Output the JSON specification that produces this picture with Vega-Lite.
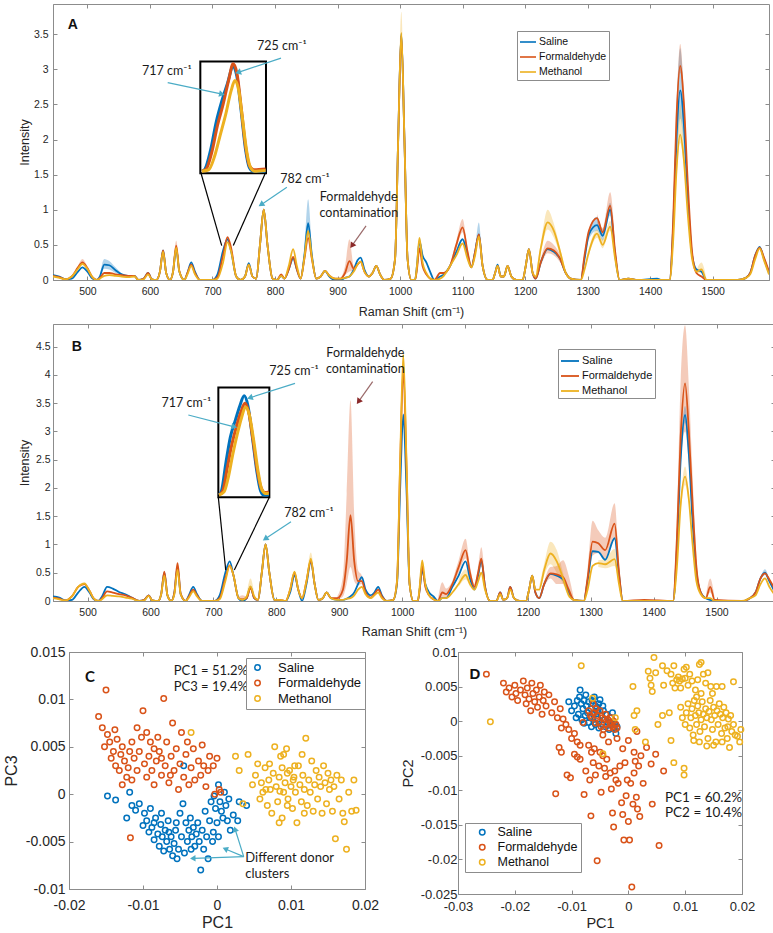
{
"$schema":"https://vega.github.io/schema/vega-lite/v6.json",
"padding":{"left":2,"top":3,"right":2,"bottom":3},
"config":{
 "view":{"stroke":"#8c8c8c","strokeWidth":1},
 "font":"Liberation Sans",
 "axis":{"grid":false,"tickSize":-4,"tickCount":30,"tickColor":"#8c8c8c","domainColor":"#8c8c8c","labelColor":"#262626","titleColor":"#262626","titleFontWeight":"normal","labelFont":"Liberation Sans","titleFont":"Liberation Sans","labelOverlap":false,"labelFlush":false,"titleBaseline":"middle"}
},
"datasets":{
"sA":[
{"x":445,"S":0.07,"F":0.06,"M":0.05},{"x":455,"S":0.05,"F":0.04,"M":0.03},{"x":465,"S":0.01,"F":0.01,"M":0.01},{"x":475,"S":0.02,"F":0.05,"M":0.05},{"x":485,"S":0.12,"F":0.18,"M":0.16},{"x":492,"S":0.18,"F":0.25,"M":0.23},{"x":500,"S":0.12,"F":0.17,"M":0.16},{"x":508,"S":0.02,"F":0.04,"M":0.04},{"x":515,"S":0,"F":0,"M":0},{"x":520,"S":0.05,"F":0.03,"M":0.02},{"x":527,"S":0.22,"F":0.1,"M":0.06},{"x":535,"S":0.21,"F":0.1,"M":0.07},{"x":545,"S":0.14,"F":0.08,"M":0.06},{"x":555,"S":0.08,"F":0.07,"M":0.05},{"x":565,"S":0.06,"F":0.06,"M":0.04},{"x":575,"S":0.06,"F":0.06,"M":0.05},{"x":582,"S":0,"F":0,"M":0},{"x":590,"S":0.02,"F":0.02,"M":0.01},{"x":597,"S":0.1,"F":0.1,"M":0.08},{"x":603,"S":0.01,"F":0.01,"M":0.01},{"x":610,"S":0,"F":0,"M":0},{"x":616,"S":0.12,"F":0.12,"M":0.12},{"x":621,"S":0.42,"F":0.42,"M":0.4},{"x":626,"S":0.1,"F":0.1,"M":0.1},{"x":632,"S":0,"F":0,"M":0},{"x":637,"S":0.12,"F":0.12,"M":0.12},{"x":642,"S":0.45,"F":0.49,"M":0.46},{"x":647,"S":0.12,"F":0.13,"M":0.12},{"x":655,"S":0,"F":0,"M":0},{"x":660,"S":0.1,"F":0.1,"M":0.08},{"x":666,"S":0.25,"F":0.22,"M":0.2},{"x":672,"S":0.12,"F":0.1,"M":0.08},{"x":680,"S":0,"F":0,"M":0},{"x":700,"S":0,"F":0,"M":0},{"x":708,"S":0.08,"F":0.04,"M":0.02},{"x":717,"S":0.42,"F":0.35,"M":0.25},{"x":724,"S":0.58,"F":0.61,"M":0.54},{"x":730,"S":0.4,"F":0.45,"M":0.4},{"x":738,"S":0.05,"F":0.05,"M":0.05},{"x":745,"S":0,"F":0,"M":0},{"x":752,"S":0.05,"F":0.05,"M":0.05},{"x":758,"S":0.24,"F":0.22,"M":0.22},{"x":764,"S":0.05,"F":0.05,"M":0.05},{"x":770,"S":0.02,"F":0.02,"M":0.02},{"x":776,"S":0.5,"F":0.5,"M":0.5},{"x":782,"S":1,"F":1,"M":1},{"x":788,"S":0.5,"F":0.5,"M":0.5},{"x":796,"S":0.02,"F":0.02,"M":0.02},{"x":803,"S":0,"F":0,"M":0},{"x":810,"S":0.06,"F":0.08,"M":0.06},{"x":815,"S":0.02,"F":0.02,"M":0.02},{"x":822,"S":0.15,"F":0.15,"M":0.2},{"x":829,"S":0.31,"F":0.33,"M":0.44},{"x":835,"S":0.15,"F":0.15,"M":0.2},{"x":841,"S":0.02,"F":0.02,"M":0.02},{"x":847,"S":0.35,"F":0.3,"M":0.32},{"x":853,"S":0.81,"F":0.6,"M":0.7},{"x":859,"S":0.35,"F":0.3,"M":0.32},{"x":866,"S":0.02,"F":0.02,"M":0.02},{"x":873,"S":0.05,"F":0.05,"M":0.05},{"x":880,"S":0.13,"F":0.13,"M":0.13},{"x":887,"S":0.05,"F":0.06,"M":0.06},{"x":896,"S":0,"F":0.02,"M":0.02},{"x":905,"S":0,"F":0.02,"M":0.02},{"x":912,"S":0.03,"F":0.1,"M":0.03},{"x":919,"S":0.05,"F":0.27,"M":0.05},{"x":926,"S":0.15,"F":0.16,"M":0.12},{"x":932,"S":0.28,"F":0.22,"M":0.22},{"x":937,"S":0.32,"F":0.26,"M":0.26},{"x":943,"S":0.15,"F":0.12,"M":0.12},{"x":950,"S":0.05,"F":0.05,"M":0.05},{"x":956,"S":0.1,"F":0.1,"M":0.1},{"x":962,"S":0.2,"F":0.2,"M":0.2},{"x":968,"S":0.08,"F":0.08,"M":0.08},{"x":975,"S":0,"F":0,"M":0},{"x":985,"S":0.02,"F":0.02,"M":0.02},{"x":992,"S":0.3,"F":0.3,"M":0.3},{"x":997,"S":2,"F":2,"M":2},{"x":1002,"S":3.5,"F":3.48,"M":3.52},{"x":1007,"S":2,"F":2,"M":2},{"x":1012,"S":0.3,"F":0.3,"M":0.3},{"x":1018,"S":0,"F":0,"M":0},{"x":1024,"S":0,"F":0,"M":0},{"x":1027,"S":0.2,"F":0.15,"M":0.2},{"x":1031,"S":0.55,"F":0.45,"M":0.6},{"x":1036,"S":0.35,"F":0.2,"M":0.25},{"x":1042,"S":0.25,"F":0.08,"M":0.1},{"x":1048,"S":0.12,"F":0.02,"M":0.02},{"x":1055,"S":0,"F":0,"M":0},{"x":1064,"S":0.05,"F":0.1,"M":0.02},{"x":1070,"S":0.08,"F":0.1,"M":0.06},{"x":1080,"S":0.2,"F":0.2,"M":0.2},{"x":1090,"S":0.4,"F":0.5,"M":0.35},{"x":1100,"S":0.58,"F":0.75,"M":0.52},{"x":1108,"S":0.35,"F":0.4,"M":0.3},{"x":1114,"S":0.18,"F":0.18,"M":0.18},{"x":1120,"S":0.4,"F":0.4,"M":0.35},{"x":1126,"S":0.65,"F":0.65,"M":0.62},{"x":1132,"S":0.2,"F":0.2,"M":0.2},{"x":1140,"S":0,"F":0,"M":0},{"x":1148,"S":0,"F":0,"M":0},{"x":1152,"S":0.1,"F":0.1,"M":0.1},{"x":1156,"S":0.22,"F":0.2,"M":0.2},{"x":1161,"S":0.05,"F":0.05,"M":0.05},{"x":1166,"S":0.05,"F":0.05,"M":0.05},{"x":1172,"S":0.2,"F":0.2,"M":0.2},{"x":1178,"S":0.05,"F":0.05,"M":0.05},{"x":1186,"S":0,"F":0,"M":0},{"x":1196,"S":0,"F":0,"M":0},{"x":1201,"S":0.2,"F":0.2,"M":0.2},{"x":1206,"S":0.44,"F":0.44,"M":0.44},{"x":1212,"S":0.1,"F":0.1,"M":0.1},{"x":1217,"S":0.02,"F":0.02,"M":0.05},{"x":1225,"S":0.25,"F":0.25,"M":0.45},{"x":1236,"S":0.44,"F":0.45,"M":0.82},{"x":1246,"S":0.4,"F":0.42,"M":0.7},{"x":1256,"S":0.3,"F":0.3,"M":0.4},{"x":1265,"S":0.1,"F":0.1,"M":0.1},{"x":1273,"S":0.02,"F":0.02,"M":0.02},{"x":1289,"S":0,"F":0,"M":0},{"x":1295,"S":0.3,"F":0.35,"M":0.15},{"x":1302,"S":0.65,"F":0.7,"M":0.4},{"x":1315,"S":0.78,"F":0.88,"M":0.66},{"x":1324,"S":0.63,"F":0.68,"M":0.5},{"x":1336,"S":1,"F":1.06,"M":0.76},{"x":1344,"S":0.35,"F":0.4,"M":0.3},{"x":1351,"S":0,"F":0,"M":0},{"x":1365,"S":0.02,"F":0.02,"M":0.02},{"x":1380,"S":0,"F":0,"M":0},{"x":1411,"S":0.02,"F":0,"M":0},{"x":1418,"S":0,"F":0,"M":0},{"x":1431,"S":0,"F":0,"M":0},{"x":1437,"S":0.8,"F":0.9,"M":0.6},{"x":1442,"S":2,"F":2.3,"M":1.55},{"x":1448,"S":2.7,"F":3.05,"M":2.07},{"x":1454,"S":2.2,"F":2.5,"M":1.7},{"x":1460,"S":1.2,"F":1.4,"M":0.95},{"x":1467,"S":0.35,"F":0.4,"M":0.3},{"x":1474,"S":0.15,"F":0.1,"M":0.12},{"x":1482,"S":0.12,"F":0.05,"M":0.15},{"x":1490,"S":0,"F":0,"M":0},{"x":1540,"S":0,"F":0,"M":0},{"x":1553,"S":0.03,"F":0.03,"M":0.03},{"x":1560,"S":0.1,"F":0.1,"M":0.08},{"x":1568,"S":0.35,"F":0.35,"M":0.3},{"x":1575,"S":0.47,"F":0.46,"M":0.45},{"x":1582,"S":0.3,"F":0.32,"M":0.28},{"x":1590,"S":0.1,"F":0.12,"M":0.08}
],
"sB":[
{"x":445,"S":0.08,"F":0.06,"M":0.05},{"x":455,"S":0.06,"F":0.04,"M":0.03},{"x":465,"S":0.01,"F":0.01,"M":0.01},{"x":475,"S":0.02,"F":0.08,"M":0.08},{"x":485,"S":0.15,"F":0.25,"M":0.25},{"x":495,"S":0.25,"F":0.3,"M":0.31},{"x":503,"S":0.15,"F":0.18,"M":0.18},{"x":510,"S":0.03,"F":0.04,"M":0.04},{"x":517,"S":0,"F":0,"M":0},{"x":523,"S":0.08,"F":0.05,"M":0.03},{"x":531,"S":0.25,"F":0.17,"M":0.1},{"x":540,"S":0.22,"F":0.15,"M":0.09},{"x":550,"S":0.16,"F":0.12,"M":0.08},{"x":560,"S":0.12,"F":0.1,"M":0.06},{"x":570,"S":0.06,"F":0.06,"M":0.04},{"x":582,"S":0,"F":0,"M":0},{"x":590,"S":0.02,"F":0.02,"M":0.01},{"x":597,"S":0.1,"F":0.1,"M":0.09},{"x":603,"S":0.01,"F":0.01,"M":0.01},{"x":612,"S":0,"F":0,"M":0},{"x":617,"S":0.12,"F":0.12,"M":0.12},{"x":622,"S":0.5,"F":0.52,"M":0.45},{"x":627,"S":0.1,"F":0.1,"M":0.1},{"x":633,"S":0,"F":0,"M":0},{"x":638,"S":0.15,"F":0.15,"M":0.12},{"x":643,"S":0.6,"F":0.67,"M":0.55},{"x":648,"S":0.12,"F":0.13,"M":0.12},{"x":656,"S":0,"F":0,"M":0},{"x":661,"S":0.1,"F":0.08,"M":0.06},{"x":668,"S":0.25,"F":0.2,"M":0.17},{"x":674,"S":0.12,"F":0.1,"M":0.08},{"x":682,"S":0,"F":0,"M":0},{"x":702,"S":0,"F":0,"M":0},{"x":710,"S":0.1,"F":0.05,"M":0.03},{"x":719,"S":0.5,"F":0.4,"M":0.35},{"x":726,"S":0.7,"F":0.63,"M":0.62},{"x":732,"S":0.45,"F":0.45,"M":0.45},{"x":740,"S":0.05,"F":0.05,"M":0.05},{"x":746,"S":0,"F":0.03,"M":0.02},{"x":753,"S":0.05,"F":0.05,"M":0.08},{"x":759,"S":0.25,"F":0.24,"M":0.26},{"x":765,"S":0.05,"F":0.05,"M":0.08},{"x":771,"S":0.02,"F":0.02,"M":0.02},{"x":777,"S":0.5,"F":0.5,"M":0.5},{"x":783,"S":1,"F":1,"M":1},{"x":789,"S":0.5,"F":0.5,"M":0.5},{"x":797,"S":0.02,"F":0.02,"M":0.02},{"x":805,"S":0,"F":0.02,"M":0.02},{"x":815,"S":0,"F":0,"M":0},{"x":822,"S":0.15,"F":0.2,"M":0.2},{"x":829,"S":0.45,"F":0.5,"M":0.52},{"x":835,"S":0.2,"F":0.2,"M":0.2},{"x":841,"S":0,"F":0.05,"M":0.05},{"x":848,"S":0.3,"F":0.35,"M":0.35},{"x":855,"S":0.7,"F":0.72,"M":0.75},{"x":861,"S":0.3,"F":0.3,"M":0.3},{"x":867,"S":0.02,"F":0.02,"M":0.02},{"x":874,"S":0.05,"F":0.05,"M":0.05},{"x":880,"S":0.15,"F":0.15,"M":0.15},{"x":887,"S":0.05,"F":0.05,"M":0.05},{"x":897,"S":0.02,"F":0.05,"M":0.02},{"x":906,"S":0.02,"F":0.2,"M":0.02},{"x":912,"S":0.04,"F":0.7,"M":0.04},{"x":918,"S":0.08,"F":1.52,"M":0.05},{"x":924,"S":0.15,"F":0.7,"M":0.1},{"x":930,"S":0.3,"F":0.35,"M":0.2},{"x":936,"S":0.42,"F":0.35,"M":0.25},{"x":942,"S":0.2,"F":0.15,"M":0.12},{"x":950,"S":0.1,"F":0.06,"M":0.05},{"x":956,"S":0.15,"F":0.12,"M":0.1},{"x":962,"S":0.25,"F":0.2,"M":0.15},{"x":968,"S":0.1,"F":0.08,"M":0.05},{"x":976,"S":0,"F":0,"M":0},{"x":986,"S":0.02,"F":0.02,"M":0.02},{"x":992,"S":0.3,"F":0.35,"M":0.35},{"x":997,"S":2,"F":2.4,"M":2.5},{"x":1002,"S":3.3,"F":4.1,"M":4.35},{"x":1007,"S":2,"F":2.4,"M":2.5},{"x":1012,"S":0.3,"F":0.3,"M":0.3},{"x":1018,"S":0,"F":0,"M":0},{"x":1025,"S":0,"F":0,"M":0},{"x":1028,"S":0.2,"F":0.2,"M":0.25},{"x":1032,"S":0.55,"F":0.62,"M":0.72},{"x":1037,"S":0.3,"F":0.25,"M":0.3},{"x":1043,"S":0.15,"F":0.1,"M":0.1},{"x":1050,"S":0.08,"F":0.03,"M":0.03},{"x":1057,"S":0,"F":0,"M":0},{"x":1064,"S":0.05,"F":0.15,"M":0.05},{"x":1070,"S":0.05,"F":0.12,"M":0.05},{"x":1080,"S":0.25,"F":0.3,"M":0.15},{"x":1090,"S":0.45,"F":0.6,"M":0.3},{"x":1101,"S":0.7,"F":0.9,"M":0.46},{"x":1108,"S":0.4,"F":0.5,"M":0.3},{"x":1115,"S":0.2,"F":0.25,"M":0.2},{"x":1121,"S":0.45,"F":0.5,"M":0.35},{"x":1126,"S":0.72,"F":0.75,"M":0.5},{"x":1132,"S":0.25,"F":0.25,"M":0.2},{"x":1140,"S":0,"F":0,"M":0},{"x":1150,"S":0,"F":0,"M":0},{"x":1156,"S":0.15,"F":0.15,"M":0.12},{"x":1161,"S":0.02,"F":0.02,"M":0.02},{"x":1167,"S":0.05,"F":0.05,"M":0.05},{"x":1172,"S":0.25,"F":0.25,"M":0.2},{"x":1178,"S":0.05,"F":0.05,"M":0.05},{"x":1187,"S":0,"F":0,"M":0},{"x":1197,"S":0,"F":0,"M":0},{"x":1202,"S":0.2,"F":0.2,"M":0.2},{"x":1207,"S":0.45,"F":0.45,"M":0.45},{"x":1212,"S":0.15,"F":0.15,"M":0.2},{"x":1218,"S":0.05,"F":0.05,"M":0.2},{"x":1226,"S":0.3,"F":0.3,"M":0.55},{"x":1236,"S":0.48,"F":0.49,"M":0.84},{"x":1246,"S":0.45,"F":0.47,"M":0.7},{"x":1256,"S":0.38,"F":0.42,"M":0.4},{"x":1265,"S":0.15,"F":0.2,"M":0.1},{"x":1273,"S":0.02,"F":0.02,"M":0.02},{"x":1289,"S":0,"F":0,"M":0},{"x":1295,"S":0.35,"F":0.4,"M":0.2},{"x":1303,"S":0.88,"F":1.05,"M":0.62},{"x":1312,"S":0.87,"F":1.02,"M":0.67},{"x":1323,"S":0.73,"F":0.9,"M":0.65},{"x":1338,"S":1.11,"F":1.37,"M":0.74},{"x":1345,"S":0.45,"F":0.5,"M":0.3},{"x":1351,"S":0,"F":0,"M":0},{"x":1385,"S":0,"F":0.02,"M":0},{"x":1431,"S":0,"F":0,"M":0},{"x":1437,"S":0.9,"F":1.1,"M":0.6},{"x":1443,"S":2.5,"F":2.9,"M":1.7},{"x":1450,"S":3.29,"F":3.85,"M":2.2},{"x":1456,"S":2.6,"F":3,"M":1.8},{"x":1462,"S":1.4,"F":1.7,"M":1},{"x":1468,"S":0.5,"F":0.6,"M":0.35},{"x":1475,"S":0.15,"F":0.15,"M":0.12},{"x":1483,"S":0.05,"F":0.05,"M":0.05},{"x":1490,"S":0.02,"F":0.25,"M":0.05},{"x":1497,"S":0,"F":0.02,"M":0},{"x":1540,"S":0,"F":0,"M":0},{"x":1553,"S":0.05,"F":0.05,"M":0.05},{"x":1562,"S":0.15,"F":0.15,"M":0.1},{"x":1570,"S":0.4,"F":0.4,"M":0.3},{"x":1577,"S":0.5,"F":0.49,"M":0.4},{"x":1584,"S":0.35,"F":0.38,"M":0.25},{"x":1593,"S":0.15,"F":0.2,"M":0.1}
],
"bA":[
{"g":"F","seg":"a1","x":478,"lo":0.03,"hi":0.06},{"g":"F","seg":"a1","x":485,"lo":0.15,"hi":0.2},{"g":"F","seg":"a1","x":492,"lo":0.22,"hi":0.3},{"g":"F","seg":"a1","x":500,"lo":0.14,"hi":0.19},{"g":"F","seg":"a1","x":508,"lo":0.03,"hi":0.05},
{"g":"S","seg":"a2","x":520,"lo":0.04,"hi":0.06},{"g":"S","seg":"a2","x":527,"lo":0.16,"hi":0.3},{"g":"S","seg":"a2","x":535,"lo":0.15,"hi":0.27},{"g":"S","seg":"a2","x":545,"lo":0.1,"hi":0.18},{"g":"S","seg":"a2","x":555,"lo":0.07,"hi":0.09},
{"g":"F","seg":"a3","x":637,"lo":0.1,"hi":0.14},{"g":"F","seg":"a3","x":642,"lo":0.44,"hi":0.56},{"g":"F","seg":"a3","x":647,"lo":0.1,"hi":0.15},
{"g":"S","seg":"a4","x":841,"lo":0.02,"hi":0.02},{"g":"S","seg":"a4","x":847,"lo":0.28,"hi":0.45},{"g":"S","seg":"a4","x":853,"lo":0.62,"hi":1.15},{"g":"S","seg":"a4","x":859,"lo":0.28,"hi":0.45},{"g":"S","seg":"a4","x":866,"lo":0.02,"hi":0.02},
{"g":"F","seg":"a5","x":905,"lo":0.02,"hi":0.02},{"g":"F","seg":"a5","x":912,"lo":0.07,"hi":0.2},{"g":"F","seg":"a5","x":919,"lo":0.12,"hi":0.58},{"g":"F","seg":"a5","x":926,"lo":0.14,"hi":0.2},{"g":"F","seg":"a5","x":932,"lo":0.2,"hi":0.24},
{"g":"M","seg":"a6","x":992,"lo":0.3,"hi":0.3},{"g":"M","seg":"a6","x":997,"lo":1.9,"hi":2.2},{"g":"M","seg":"a6","x":1002,"lo":3.3,"hi":3.82},{"g":"M","seg":"a6","x":1007,"lo":1.9,"hi":2.2},{"g":"M","seg":"a6","x":1012,"lo":0.3,"hi":0.3},
{"g":"F","seg":"a7","x":1080,"lo":0.18,"hi":0.22},{"g":"F","seg":"a7","x":1090,"lo":0.45,"hi":0.55},{"g":"F","seg":"a7","x":1100,"lo":0.68,"hi":0.87},{"g":"F","seg":"a7","x":1108,"lo":0.36,"hi":0.45},{"g":"F","seg":"a7","x":1114,"lo":0.17,"hi":0.19},
{"g":"S","seg":"a8","x":1114,"lo":0.17,"hi":0.19},{"g":"S","seg":"a8","x":1120,"lo":0.36,"hi":0.45},{"g":"S","seg":"a8","x":1126,"lo":0.58,"hi":0.82},{"g":"S","seg":"a8","x":1132,"lo":0.18,"hi":0.24},{"g":"S","seg":"a8","x":1140,"lo":0,"hi":0},
{"g":"M","seg":"a9","x":1217,"lo":0.03,"hi":0.07},{"g":"M","seg":"a9","x":1225,"lo":0.38,"hi":0.52},{"g":"M","seg":"a9","x":1236,"lo":0.72,"hi":1},{"g":"M","seg":"a9","x":1246,"lo":0.6,"hi":0.8},{"g":"M","seg":"a9","x":1256,"lo":0.35,"hi":0.45},{"g":"M","seg":"a9","x":1265,"lo":0.08,"hi":0.12},
{"g":"F","seg":"a10","x":1217,"lo":0.02,"hi":0.02},{"g":"F","seg":"a10","x":1225,"lo":0.2,"hi":0.3},{"g":"F","seg":"a10","x":1236,"lo":0.38,"hi":0.56},{"g":"F","seg":"a10","x":1246,"lo":0.35,"hi":0.5},{"g":"F","seg":"a10","x":1256,"lo":0.25,"hi":0.36},{"g":"F","seg":"a10","x":1265,"lo":0.08,"hi":0.12},
{"g":"S","seg":"a11","x":1295,"lo":0.25,"hi":0.35},{"g":"S","seg":"a11","x":1302,"lo":0.58,"hi":0.72},{"g":"S","seg":"a11","x":1315,"lo":0.7,"hi":0.9},{"g":"S","seg":"a11","x":1324,"lo":0.56,"hi":0.72},{"g":"S","seg":"a11","x":1336,"lo":0.92,"hi":1.1},{"g":"S","seg":"a11","x":1344,"lo":0.3,"hi":0.4},
{"g":"F","seg":"a12","x":1315,"lo":0.82,"hi":0.94},{"g":"F","seg":"a12","x":1324,"lo":0.62,"hi":0.74},{"g":"F","seg":"a12","x":1336,"lo":0.98,"hi":1.25},{"g":"F","seg":"a12","x":1344,"lo":0.35,"hi":0.45},
{"g":"M","seg":"a13","x":1302,"lo":0.35,"hi":0.45},{"g":"M","seg":"a13","x":1315,"lo":0.6,"hi":0.72},{"g":"M","seg":"a13","x":1324,"lo":0.45,"hi":0.58},{"g":"M","seg":"a13","x":1336,"lo":0.7,"hi":0.84},{"g":"M","seg":"a13","x":1344,"lo":0.27,"hi":0.33},
{"g":"S","seg":"a14","x":1431,"lo":0,"hi":0},{"g":"S","seg":"a14","x":1437,"lo":0.65,"hi":0.95},{"g":"S","seg":"a14","x":1442,"lo":1.6,"hi":2.45},{"g":"S","seg":"a14","x":1448,"lo":2.3,"hi":3.3},{"g":"S","seg":"a14","x":1454,"lo":1.85,"hi":2.6},{"g":"S","seg":"a14","x":1460,"lo":0.95,"hi":1.45},{"g":"S","seg":"a14","x":1467,"lo":0.3,"hi":0.4},
{"g":"F","seg":"a15","x":1437,"lo":0.85,"hi":0.95},{"g":"F","seg":"a15","x":1442,"lo":2.2,"hi":2.45},{"g":"F","seg":"a15","x":1448,"lo":2.95,"hi":3.36},{"g":"F","seg":"a15","x":1454,"lo":2.4,"hi":2.62},{"g":"F","seg":"a15","x":1460,"lo":1.35,"hi":1.45},
{"g":"M","seg":"a16","x":1437,"lo":0.55,"hi":0.65},{"g":"M","seg":"a16","x":1442,"lo":1.45,"hi":1.7},{"g":"M","seg":"a16","x":1448,"lo":1.95,"hi":2.5},{"g":"M","seg":"a16","x":1454,"lo":1.6,"hi":1.85},{"g":"M","seg":"a16","x":1460,"lo":0.9,"hi":1},
{"g":"M","seg":"a17","x":1474,"lo":0.1,"hi":0.14},{"g":"M","seg":"a17","x":1482,"lo":0.1,"hi":0.25},{"g":"M","seg":"a17","x":1490,"lo":0,"hi":0.02},
{"g":"S","seg":"a18","x":1027,"lo":0.18,"hi":0.22},{"g":"S","seg":"a18","x":1031,"lo":0.5,"hi":0.6},{"g":"S","seg":"a18","x":1036,"lo":0.3,"hi":0.4}
],
"bB":[
{"g":"F","seg":"b1","x":897,"lo":0.03,"hi":0.08},{"g":"F","seg":"b1","x":906,"lo":0.08,"hi":0.45},{"g":"F","seg":"b1","x":912,"lo":0.3,"hi":1.9},{"g":"F","seg":"b1","x":918,"lo":0.6,"hi":3.55},{"g":"F","seg":"b1","x":924,"lo":0.35,"hi":1.5},{"g":"F","seg":"b1","x":930,"lo":0.28,"hi":0.55},{"g":"F","seg":"b1","x":936,"lo":0.3,"hi":0.45},{"g":"F","seg":"b1","x":942,"lo":0.12,"hi":0.18},
{"g":"M","seg":"b2","x":992,"lo":0.3,"hi":0.4},{"g":"M","seg":"b2","x":997,"lo":2.3,"hi":2.7},{"g":"M","seg":"b2","x":1002,"lo":4,"hi":4.45},{"g":"M","seg":"b2","x":1007,"lo":2.3,"hi":2.7},{"g":"M","seg":"b2","x":1012,"lo":0.3,"hi":0.35},
{"g":"F","seg":"b3","x":1057,"lo":0,"hi":0.02},{"g":"F","seg":"b3","x":1064,"lo":0.05,"hi":0.33},{"g":"F","seg":"b3","x":1070,"lo":0.06,"hi":0.22},{"g":"F","seg":"b3","x":1080,"lo":0.25,"hi":0.35},
{"g":"F","seg":"b4","x":1080,"lo":0.25,"hi":0.35},{"g":"F","seg":"b4","x":1090,"lo":0.5,"hi":0.72},{"g":"F","seg":"b4","x":1101,"lo":0.75,"hi":1.1},{"g":"F","seg":"b4","x":1108,"lo":0.4,"hi":0.62},{"g":"F","seg":"b4","x":1115,"lo":0.2,"hi":0.3},{"g":"F","seg":"b4","x":1121,"lo":0.4,"hi":0.62},{"g":"F","seg":"b4","x":1126,"lo":0.6,"hi":0.95},{"g":"F","seg":"b4","x":1132,"lo":0.2,"hi":0.3},
{"g":"M","seg":"b5","x":1090,"lo":0.25,"hi":0.38},{"g":"M","seg":"b5","x":1101,"lo":0.38,"hi":0.56},{"g":"M","seg":"b5","x":1108,"lo":0.25,"hi":0.36},
{"g":"M","seg":"b6","x":1218,"lo":0.15,"hi":0.25},{"g":"M","seg":"b6","x":1226,"lo":0.45,"hi":0.66},{"g":"M","seg":"b6","x":1236,"lo":0.65,"hi":1.05},{"g":"M","seg":"b6","x":1246,"lo":0.5,"hi":0.9},{"g":"M","seg":"b6","x":1256,"lo":0.3,"hi":0.5},{"g":"M","seg":"b6","x":1265,"lo":0.05,"hi":0.15},
{"g":"F","seg":"b7","x":1226,"lo":0.25,"hi":0.35},{"g":"F","seg":"b7","x":1236,"lo":0.4,"hi":0.6},{"g":"F","seg":"b7","x":1246,"lo":0.3,"hi":0.62},{"g":"F","seg":"b7","x":1256,"lo":0.3,"hi":0.72},{"g":"F","seg":"b7","x":1265,"lo":0.1,"hi":0.45},{"g":"F","seg":"b7","x":1273,"lo":0,"hi":0.05},
{"g":"F","seg":"b8","x":1289,"lo":0,"hi":0},{"g":"F","seg":"b8","x":1295,"lo":0.3,"hi":0.55},{"g":"F","seg":"b8","x":1303,"lo":0.8,"hi":1.42},{"g":"F","seg":"b8","x":1312,"lo":0.85,"hi":1.25},{"g":"F","seg":"b8","x":1323,"lo":0.75,"hi":1.12},{"g":"F","seg":"b8","x":1338,"lo":1.1,"hi":1.73},{"g":"F","seg":"b8","x":1345,"lo":0.4,"hi":0.65},{"g":"F","seg":"b8","x":1351,"lo":0,"hi":0},
{"g":"M","seg":"b9","x":1312,"lo":0.6,"hi":0.72},{"g":"M","seg":"b9","x":1323,"lo":0.58,"hi":0.75},{"g":"M","seg":"b9","x":1338,"lo":0.62,"hi":0.92},{"g":"M","seg":"b9","x":1345,"lo":0.25,"hi":0.35},
{"g":"F","seg":"b10","x":1431,"lo":0,"hi":0},{"g":"F","seg":"b10","x":1437,"lo":0.85,"hi":1.4},{"g":"F","seg":"b10","x":1443,"lo":2.4,"hi":3.9},{"g":"F","seg":"b10","x":1450,"lo":3,"hi":4.88},{"g":"F","seg":"b10","x":1456,"lo":2.4,"hi":3.8},{"g":"F","seg":"b10","x":1462,"lo":1.3,"hi":2.2},{"g":"F","seg":"b10","x":1468,"lo":0.5,"hi":0.8},{"g":"F","seg":"b10","x":1475,"lo":0.12,"hi":0.18},
{"g":"S","seg":"b11","x":1443,"lo":2.4,"hi":2.65},{"g":"S","seg":"b11","x":1450,"lo":3.15,"hi":3.45},{"g":"S","seg":"b11","x":1456,"lo":2.5,"hi":2.75},
{"g":"M","seg":"b12","x":1443,"lo":1.6,"hi":1.8},{"g":"M","seg":"b12","x":1450,"lo":2.05,"hi":2.38},{"g":"M","seg":"b12","x":1456,"lo":1.7,"hi":1.9},
{"g":"F","seg":"b13","x":1483,"lo":0.03,"hi":0.08},{"g":"F","seg":"b13","x":1490,"lo":0.15,"hi":0.4},{"g":"F","seg":"b13","x":1497,"lo":0,"hi":0.05},
{"g":"M","seg":"b14","x":753,"lo":0.05,"hi":0.12},{"g":"M","seg":"b14","x":759,"lo":0.2,"hi":0.4},{"g":"M","seg":"b14","x":765,"lo":0.05,"hi":0.12},
{"g":"F","seg":"b15","x":740,"lo":0.03,"hi":0.07},{"g":"F","seg":"b15","x":746,"lo":0,"hi":0.1},{"g":"F","seg":"b15","x":753,"lo":0.03,"hi":0.07},
{"g":"M","seg":"b16","x":848,"lo":0.3,"hi":0.4},{"g":"M","seg":"b16","x":855,"lo":0.66,"hi":0.86},{"g":"M","seg":"b16","x":861,"lo":0.26,"hi":0.34},
{"g":"S","seg":"b17","x":1570,"lo":0.38,"hi":0.42},{"g":"S","seg":"b17","x":1577,"lo":0.46,"hi":0.56},{"g":"S","seg":"b17","x":1584,"lo":0.32,"hi":0.38}
],
"iA":[
{"g":"S","x":683,"v":1.55},{"g":"S","x":688,"v":1.58},{"g":"S","x":697,"v":1.85},{"g":"S","x":706,"v":2.25},{"g":"S","x":715,"v":2.55},{"g":"S","x":724,"v":2.8},{"g":"S","x":733,"v":3.04},{"g":"S","x":739,"v":2.9},{"g":"S","x":746,"v":2.4},{"g":"S","x":753,"v":1.85},{"g":"S","x":759,"v":1.6},{"g":"S","x":765,"v":1.55},{"g":"S","x":785,"v":1.55},
{"g":"F","x":683,"v":1.55},{"g":"F","x":690,"v":1.58},{"g":"F","x":699,"v":1.82},{"g":"F","x":708,"v":2.2},{"g":"F","x":717,"v":2.5},{"g":"F","x":726,"v":2.85},{"g":"F","x":733,"v":3.08},{"g":"F","x":739,"v":2.95},{"g":"F","x":746,"v":2.45},{"g":"F","x":753,"v":1.9},{"g":"F","x":759,"v":1.63},{"g":"F","x":766,"v":1.57},{"g":"F","x":785,"v":1.58},
{"g":"M","x":683,"v":1.55},{"g":"M","x":694,"v":1.57},{"g":"M","x":703,"v":1.75},{"g":"M","x":712,"v":2.05},{"g":"M","x":721,"v":2.35},{"g":"M","x":730,"v":2.7},{"g":"M","x":736,"v":2.84},{"g":"M","x":742,"v":2.7},{"g":"M","x":748,"v":2.3},{"g":"M","x":755,"v":1.82},{"g":"M","x":761,"v":1.6},{"g":"M","x":767,"v":1.55},{"g":"M","x":785,"v":1.56}
],
"iB":[
{"g":"S","x":709,"v":1.875},{"g":"S","x":713,"v":1.95},{"g":"S","x":720,"v":2.45},{"g":"S","x":727,"v":2.9},{"g":"S","x":735,"v":3.2},{"g":"S","x":742,"v":3.45},{"g":"S","x":749,"v":3.63},{"g":"S","x":755,"v":3.45},{"g":"S","x":762,"v":2.9},{"g":"S","x":769,"v":2.3},{"g":"S","x":775,"v":1.95},{"g":"S","x":780,"v":1.875},{"g":"S","x":788,"v":1.88},
{"g":"F","x":709,"v":1.875},{"g":"F","x":715,"v":1.95},{"g":"F","x":722,"v":2.35},{"g":"F","x":729,"v":2.75},{"g":"F","x":737,"v":3.1},{"g":"F","x":744,"v":3.35},{"g":"F","x":750,"v":3.5},{"g":"F","x":756,"v":3.35},{"g":"F","x":763,"v":2.85},{"g":"F","x":770,"v":2.3},{"g":"F","x":776,"v":2},{"g":"F","x":782,"v":1.92},{"g":"F","x":788,"v":1.93},
{"g":"M","x":709,"v":1.875},{"g":"M","x":717,"v":1.93},{"g":"M","x":724,"v":2.2},{"g":"M","x":731,"v":2.6},{"g":"M","x":738,"v":2.95},{"g":"M","x":745,"v":3.25},{"g":"M","x":751,"v":3.43},{"g":"M","x":757,"v":3.3},{"g":"M","x":764,"v":2.85},{"g":"M","x":771,"v":2.3},{"g":"M","x":777,"v":1.97},{"g":"M","x":783,"v":1.9},{"g":"M","x":788,"v":1.9}
],
"boxA":[{"x1":680.6,"x2":785.6,"y1":1.52,"y2":3.11}],
"boxB":[{"x1":707.9,"x2":789,"y1":1.834,"y2":3.775}],
"segA":[
{"id":"z1","x":681.7,"y":1.52,"x2":714.8,"y2":0.49},{"id":"z2","x":784.5,"y":1.52,"x2":733.3,"y2":0.49},
{"id":"a725","x":809.6,"y":3.16,"x2":742.5,"y2":2.96},{"id":"a717","x":628.4,"y":2.81,"x2":713.7,"y2":2.65},{"id":"a782","x":819,"y":1.32,"x2":779,"y2":1.08},{"id":"aF","x":945.6,"y":0.77,"x2":924,"y2":0.5}
],
"segB":[
{"id":"z1","x":707.9,"y":1.834,"x2":719.6,"y2":0.548},{"id":"z2","x":789,"y":1.834,"x2":733.3,"y2":0.548},
{"id":"a725","x":829.8,"y":3.85,"x2":759.4,"y2":3.6},{"id":"a717","x":660.2,"y":3.29,"x2":731.7,"y2":3.085},{"id":"a782","x":823.4,"y":1.4,"x2":783.7,"y2":1.11},{"id":"aF","x":953.3,"y":3.88,"x2":931.6,"y2":3.54}
],
"txtA":[{"t":"725 cm⁻¹","x":811,"y":3.33},{"t":"717 cm⁻¹","x":627,"y":2.98},{"t":"782 cm⁻¹","x":848,"y":1.44},{"t":"Formaldehyde","x":934,"y":1.175},{"t":"contamination","x":934,"y":0.953}],
"txtB":[{"t":"725 cm⁻¹","x":828.2,"y":4.07},{"t":"717 cm⁻¹","x":657,"y":3.5},{"t":"782 cm⁻¹","x":852,"y":1.55},{"t":"Formaldehyde","x":941.6,"y":4.38},{"t":"contamination","x":941.6,"y":4.1}],
"segC":[
{"id":"d1","x":0.00361,"y":-0.00659,"x2":0.00248,"y2":-0.00378},{"id":"d2","x":0.00361,"y":-0.00659,"x2":0.00122,"y2":-0.00581},{"id":"d3","x":0.00361,"y":-0.00659,"x2":-0.00315,"y2":-0.00676}
],
"txtC":[{"t":"PC1 = 51.2%","x":-0.00585,"y":0.013},{"t":"PC3 = 19.4%","x":-0.00585,"y":0.01134},{"t":"Different donor","x":0.00383,"y":-0.00676},{"t":"clusters","x":0.00383,"y":-0.00842}],
"txtD":[{"t":"PC1 = 60.2%","x":0.00644,"y":-0.01116},{"t":"PC2 = 10.4%","x":0.00644,"y":-0.01333}],
"pC":[
{"g":"S","p":-0.0148,"q":-0.0002},{"g":"S","p":-0.0137,"q":-0.0006},{"g":"S","p":-0.0122,"q":-0.0025},{"g":"S","p":-0.0118,"q":0.0002},{"g":"S","p":-0.0115,"q":-0.0012},{"g":"S","p":-0.011,"q":-0.0017},{"g":"S","p":-0.0105,"q":-0.001},{"g":"S","p":-0.01,"q":-0.0033},{"g":"S","p":-0.0098,"q":-0.002},{"g":"S","p":-0.0095,"q":-0.0028},{"g":"S","p":-0.0092,"q":-0.004},{"g":"S","p":-0.009,"q":-0.0015},{"g":"S","p":-0.0088,"q":-0.0035},{"g":"S","p":-0.0085,"q":-0.0048},{"g":"S","p":-0.0083,"q":-0.0025},{"g":"S","p":-0.008,"q":-0.0042},{"g":"S","p":-0.0078,"q":-0.0055},{"g":"S","p":-0.0076,"q":-0.0032},{"g":"S","p":-0.0074,"q":-0.0045},{"g":"S","p":-0.0072,"q":-0.006},{"g":"S","p":-0.007,"q":-0.0038},{"g":"S","p":-0.0068,"q":-0.005},{"g":"S","p":-0.0066,"q":-0.0028},{"g":"S","p":-0.0064,"q":-0.0058},{"g":"S","p":-0.0062,"q":-0.0045},{"g":"S","p":-0.006,"q":-0.0065},{"g":"S","p":-0.0058,"q":-0.0052},{"g":"S","p":-0.0056,"q":-0.0038},{"g":"S","p":-0.0054,"q":-0.0068},{"g":"S","p":-0.0052,"q":-0.0058},{"g":"S","p":-0.005,"q":-0.002},{"g":"S","p":-0.0048,"q":-0.0045},{"g":"S","p":-0.0046,"q":-0.001},{"g":"S","p":-0.0044,"q":-0.0062},{"g":"S","p":-0.0042,"q":-0.003},{"g":"S","p":-0.004,"q":-0.005},{"g":"S","p":-0.0038,"q":-0.0038},{"g":"S","p":-0.0036,"q":-0.0025},{"g":"S","p":-0.0034,"q":-0.0045},{"g":"S","p":-0.0032,"q":-0.0035},{"g":"S","p":-0.003,"q":-0.0055},{"g":"S","p":-0.0028,"q":-0.0042},{"g":"S","p":-0.0026,"q":-0.003},{"g":"S","p":-0.0024,"q":-0.005},{"g":"S","p":-0.0022,"q":-0.008},{"g":"S","p":-0.002,"q":-0.0038},{"g":"S","p":-0.0018,"q":-0.0058},{"g":"S","p":-0.0016,"q":-0.0018},{"g":"S","p":-0.0014,"q":-0.0045},{"g":"S","p":-0.0012,"q":-0.0068},{"g":"S","p":-0.001,"q":-0.0028},{"g":"S","p":-0.0008,"q":-0.0008},{"g":"S","p":-0.0006,"q":-0.005},{"g":"S","p":-0.0004,"q":-0.0002},{"g":"S","p":-0.0002,"q":-0.0015},{"g":"S","p":0,"q":-0.003},{"g":"S","p":0.0002,"q":0.001},{"g":"S","p":0.0004,"q":-0.0008},{"g":"S","p":0.0006,"q":-0.0018},{"g":"S","p":0.0008,"q":-0.0025},{"g":"S","p":0.001,"q":0.0002},{"g":"S","p":0.0012,"q":-0.0012},{"g":"S","p":0.0014,"q":-0.0028},{"g":"S","p":0.0016,"q":-0.0005},{"g":"S","p":0.0018,"q":-0.0038},{"g":"S","p":0.0022,"q":-0.0022},{"g":"S","p":0.0028,"q":-0.0028},{"g":"S","p":0.003,"q":-0.0008},{"g":"S","p":0.004,"q":-0.0012},{"g":"S","p":-0.0045,"q":0.003},{"g":"S","p":-0.0055,"q":-0.003},{"g":"S","p":-0.0075,"q":-0.002},{"g":"S","p":-0.0065,"q":-0.004},{"g":"S","p":-0.0035,"q":-0.0058},{"g":"S","p":-0.0005,"q":-0.004},{"g":"S","p":0.0002,"q":-0.0045},{"g":"S","p":-0.0085,"q":-0.003},
{"g":"F","p":-0.016,"q":0.0082},{"g":"F","p":-0.015,"q":0.011},{"g":"F","p":-0.0155,"q":0.007},{"g":"F","p":-0.0148,"q":0.0063},{"g":"F","p":-0.0145,"q":0.0055},{"g":"F","p":-0.0152,"q":0.005},{"g":"F","p":-0.0138,"q":0.0068},{"g":"F","p":-0.0135,"q":0.0058},{"g":"F","p":-0.014,"q":0.0045},{"g":"F","p":-0.0143,"q":0.0038},{"g":"F","p":-0.0137,"q":0.003},{"g":"F","p":-0.013,"q":0.0042},{"g":"F","p":-0.0128,"q":0.005},{"g":"F","p":-0.0125,"q":0.0035},{"g":"F","p":-0.0132,"q":0.0025},{"g":"F","p":-0.012,"q":0.0028},{"g":"F","p":-0.0118,"q":0.0045},{"g":"F","p":-0.0115,"q":0.0055},{"g":"F","p":-0.0112,"q":0.0038},{"g":"F","p":-0.0122,"q":0.0018},{"g":"F","p":-0.0115,"q":0.0015},{"g":"F","p":-0.0108,"q":0.0025},{"g":"F","p":-0.0105,"q":0.0045},{"g":"F","p":-0.01,"q":0.0088},{"g":"F","p":-0.0102,"q":0.006},{"g":"F","p":-0.0098,"q":0.0032},{"g":"F","p":-0.0095,"q":0.0018},{"g":"F","p":-0.0092,"q":0.004},{"g":"F","p":-0.009,"q":0.0055},{"g":"F","p":-0.0088,"q":0.0025},{"g":"F","p":-0.0085,"q":0.001},{"g":"F","p":-0.0082,"q":0.0035},{"g":"F","p":-0.008,"q":0.006},{"g":"F","p":-0.0078,"q":0.0045},{"g":"F","p":-0.0075,"q":0.002},{"g":"F","p":-0.0072,"q":0.0101},{"g":"F","p":-0.007,"q":0.003},{"g":"F","p":-0.0068,"q":0.0055},{"g":"F","p":-0.0065,"q":0.0012},{"g":"F","p":-0.0062,"q":0.004},{"g":"F","p":-0.006,"q":0.0075},{"g":"F","p":-0.0058,"q":0.0025},{"g":"F","p":-0.0055,"q":0.0048},{"g":"F","p":-0.0052,"q":0.0005},{"g":"F","p":-0.005,"q":0.0032},{"g":"F","p":-0.0048,"q":0.0065},{"g":"F","p":-0.0045,"q":0.0018},{"g":"F","p":-0.0042,"q":0.0042},{"g":"F","p":-0.004,"q":0.0055},{"g":"F","p":-0.0038,"q":0.001},{"g":"F","p":-0.0035,"q":0.0028},{"g":"F","p":-0.0032,"q":0.0048},{"g":"F","p":-0.003,"q":0.0015},{"g":"F","p":-0.0025,"q":0.0035},{"g":"F","p":-0.0022,"q":0.002},{"g":"F","p":-0.002,"q":0.0052},{"g":"F","p":-0.0018,"q":0.003},{"g":"F","p":-0.0015,"q":0.0008},{"g":"F","p":-0.0012,"q":0.0025},{"g":"F","p":-0.001,"q":0.004},{"g":"F","p":-0.0005,"q":0.003},{"g":"F","p":-0.0003,"q":0},{"g":"F","p":0,"q":0.0038},{"g":"F","p":0.0003,"q":0.0005},{"g":"F","p":0.0005,"q":0.0002},{"g":"F","p":-0.0117,"q":-0.0046},{"g":"F","p":-0.0108,"q":0.007},{"g":"F","p":-0.0095,"q":0.0065},{"g":"F","p":-0.0128,"q":0.001},{"g":"F","p":-0.0085,"q":0.0048},{"g":"F","p":-0.0063,"q":0.002},{"g":"F","p":-0.0075,"q":0.0038},
{"g":"M","p":0.0025,"q":0.004},{"g":"M","p":0.003,"q":0.0025},{"g":"M","p":0.0035,"q":-0.001},{"g":"M","p":0.0042,"q":0.0042},{"g":"M","p":0.0048,"q":0.001},{"g":"M","p":0.0052,"q":0.002},{"g":"M","p":0.0055,"q":0.0032},{"g":"M","p":0.0058,"q":-0.0005},{"g":"M","p":0.006,"q":0.0012},{"g":"M","p":0.0062,"q":0.0002},{"g":"M","p":0.0065,"q":0.0028},{"g":"M","p":0.0068,"q":-0.0012},{"g":"M","p":0.007,"q":0.0015},{"g":"M","p":0.0072,"q":0.0005},{"g":"M","p":0.0074,"q":-0.002},{"g":"M","p":0.0076,"q":0.0022},{"g":"M","p":0.0078,"q":0.005},{"g":"M","p":0.008,"q":0.0008},{"g":"M","p":0.0082,"q":-0.0008},{"g":"M","p":0.0084,"q":0.0018},{"g":"M","p":0.0086,"q":0.004},{"g":"M","p":0.0088,"q":-0.0025},{"g":"M","p":0.009,"q":0.0002},{"g":"M","p":0.0092,"q":0.0012},{"g":"M","p":0.0094,"q":0.0048},{"g":"M","p":0.0096,"q":-0.0005},{"g":"M","p":0.0098,"q":0.0025},{"g":"M","p":0.01,"q":0.0008},{"g":"M","p":0.0102,"q":-0.0015},{"g":"M","p":0.0104,"q":0.0018},{"g":"M","p":0.0106,"q":0.0002},{"g":"M","p":0.0108,"q":-0.003},{"g":"M","p":0.011,"q":0.003},{"g":"M","p":0.0112,"q":0.001},{"g":"M","p":0.0114,"q":-0.0008},{"g":"M","p":0.0116,"q":0.002},{"g":"M","p":0.0118,"q":0.0005},{"g":"M","p":0.012,"q":0.0059},{"g":"M","p":0.0122,"q":-0.0012},{"g":"M","p":0.0124,"q":0.0015},{"g":"M","p":0.0126,"q":0.0002},{"g":"M","p":0.0128,"q":0.0035},{"g":"M","p":0.013,"q":-0.0018},{"g":"M","p":0.0132,"q":0.001},{"g":"M","p":0.0134,"q":0.0025},{"g":"M","p":0.0136,"q":-0.0005},{"g":"M","p":0.0138,"q":0.0018},{"g":"M","p":0.014,"q":0.0008},{"g":"M","p":0.0142,"q":-0.002},{"g":"M","p":0.0144,"q":0.003},{"g":"M","p":0.0146,"q":0.0012},{"g":"M","p":0.0148,"q":-0.001},{"g":"M","p":0.015,"q":0.0022},{"g":"M","p":0.0152,"q":0.0005},{"g":"M","p":0.0154,"q":0.0015},{"g":"M","p":0.0156,"q":-0.0018},{"g":"M","p":0.0158,"q":0.0008},{"g":"M","p":0.016,"q":-0.0047},{"g":"M","p":0.0162,"q":0.002},{"g":"M","p":0.0165,"q":-0.0005},{"g":"M","p":0.0168,"q":0.0015},{"g":"M","p":0.017,"q":-0.002},{"g":"M","p":0.0172,"q":-0.0029},{"g":"M","p":0.0175,"q":-0.0058},{"g":"M","p":0.0178,"q":0.0002},{"g":"M","p":0.0182,"q":-0.0018},{"g":"M","p":0.0185,"q":0.0015},{"g":"M","p":0.0188,"q":-0.0017},{"g":"M","p":0.009,"q":0.0042},{"g":"M","p":0.0084,"q":-0.003},{"g":"M","p":0.0095,"q":0.0022},{"g":"M","p":0.0105,"q":0.003},{"g":"M","p":0.0115,"q":0.0042},{"g":"M","p":0.0088,"q":0.0028},{"g":"M","p":0.0066,"q":0.0005},{"g":"M","p":0.0071,"q":0.0032},{"g":"M","p":0.0118,"q":-0.002},{"g":"M","p":0.0103,"q":0.0015},{"g":"M","p":0.0095,"q":-0.0012},{"g":"M","p":0.0085,"q":0.0003},{"g":"M","p":-0.0035,"q":0.0065}
],
"pD":[
{"g":"S","p":-0.0105,"q":0.0028},{"g":"S","p":-0.01,"q":0.0015},{"g":"S","p":-0.0095,"q":0.0022},{"g":"S","p":-0.009,"q":0.003},{"g":"S","p":-0.0088,"q":0.001},{"g":"S","p":-0.0085,"q":0.0045},{"g":"S","p":-0.0083,"q":0.0025},{"g":"S","p":-0.008,"q":0.0018},{"g":"S","p":-0.0078,"q":0.003},{"g":"S","p":-0.0076,"q":0.0008},{"g":"S","p":-0.0074,"q":0.0022},{"g":"S","p":-0.0072,"q":0.0012},{"g":"S","p":-0.007,"q":0.0028},{"g":"S","p":-0.0068,"q":0.0005},{"g":"S","p":-0.0066,"q":0.0018},{"g":"S","p":-0.0064,"q":0.003},{"g":"S","p":-0.0062,"q":0.001},{"g":"S","p":-0.006,"q":-0.0002},{"g":"S","p":-0.0058,"q":0.0022},{"g":"S","p":-0.0056,"q":0.0014},{"g":"S","p":-0.0054,"q":0.0003},{"g":"S","p":-0.0052,"q":0.0025},{"g":"S","p":-0.005,"q":0.0031},{"g":"S","p":-0.0048,"q":0.0008},{"g":"S","p":-0.0046,"q":-0.0005},{"g":"S","p":-0.0044,"q":0.0015},{"g":"S","p":-0.0042,"q":0.0002},{"g":"S","p":-0.004,"q":-0.0008},{"g":"S","p":-0.0038,"q":0.001},{"g":"S","p":-0.0036,"q":-0.0002},{"g":"S","p":-0.0034,"q":-0.0012},{"g":"S","p":-0.0032,"q":0.0005},{"g":"S","p":-0.003,"q":-0.0006},{"g":"S","p":-0.0028,"q":0.0012},{"g":"S","p":-0.0026,"q":-0.001},{"g":"S","p":-0.0024,"q":-0.0004},{"g":"S","p":-0.0022,"q":-0.0018},{"g":"S","p":-0.002,"q":-0.0008},{"g":"S","p":-0.0082,"q":0.0002},{"g":"S","p":-0.0078,"q":-0.0003},{"g":"S","p":-0.007,"q":-0.0002},{"g":"S","p":-0.0065,"q":-0.0008},{"g":"S","p":-0.0058,"q":-0.0005},{"g":"S","p":-0.0052,"q":-0.001},{"g":"S","p":-0.0086,"q":0.0035},{"g":"S","p":-0.0092,"q":0.0005},{"g":"S","p":-0.0075,"q":0.0038},{"g":"S","p":-0.006,"q":0.0035},{"g":"S","p":-0.0055,"q":0.002},{"g":"S","p":-0.0045,"q":0.0022},
{"g":"F","p":-0.025,"q":0.0068},{"g":"F","p":-0.022,"q":0.0055},{"g":"F","p":-0.0215,"q":0.0042},{"g":"F","p":-0.021,"q":0.0048},{"g":"F","p":-0.0205,"q":0.0035},{"g":"F","p":-0.02,"q":0.0052},{"g":"F","p":-0.0198,"q":0.004},{"g":"F","p":-0.0195,"q":0.003},{"g":"F","p":-0.019,"q":0.0045},{"g":"F","p":-0.0185,"q":0.0058},{"g":"F","p":-0.0182,"q":0.0038},{"g":"F","p":-0.018,"q":0.0025},{"g":"F","p":-0.0178,"q":0.0048},{"g":"F","p":-0.0175,"q":0.0032},{"g":"F","p":-0.0172,"q":0.0015},{"g":"F","p":-0.017,"q":0.0055},{"g":"F","p":-0.0168,"q":0.004},{"g":"F","p":-0.0165,"q":0.0028},{"g":"F","p":-0.0162,"q":0.0045},{"g":"F","p":-0.016,"q":0.002},{"g":"F","p":-0.0157,"q":0.0035},{"g":"F","p":-0.0155,"q":0.0052},{"g":"F","p":-0.0152,"q":0.001},{"g":"F","p":-0.015,"q":0.003},{"g":"F","p":-0.0148,"q":0.0042},{"g":"F","p":-0.0145,"q":0.0022},{"g":"F","p":-0.014,"q":0.0038},{"g":"F","p":-0.0135,"q":0.0012},{"g":"F","p":-0.013,"q":0.0028},{"g":"F","p":-0.0125,"q":0.0005},{"g":"F","p":-0.012,"q":0.0018},{"g":"F","p":-0.0118,"q":-0.001},{"g":"F","p":-0.0115,"q":0.0003},{"g":"F","p":-0.011,"q":-0.0005},{"g":"F","p":-0.0105,"q":-0.0012},{"g":"F","p":-0.01,"q":-0.0025},{"g":"F","p":-0.0095,"q":-0.0018},{"g":"F","p":-0.009,"q":-0.003},{"g":"F","p":-0.0122,"q":-0.0038},{"g":"F","p":-0.0118,"q":-0.0045},{"g":"F","p":-0.0128,"q":-0.0105},{"g":"F","p":-0.0108,"q":-0.0078},{"g":"F","p":-0.0102,"q":-0.0082},{"g":"F","p":-0.0095,"q":-0.0048},{"g":"F","p":-0.009,"q":-0.0052},{"g":"F","p":-0.0085,"q":-0.0055},{"g":"F","p":-0.0078,"q":-0.0106},{"g":"F","p":-0.0075,"q":-0.0072},{"g":"F","p":-0.007,"q":-0.0035},{"g":"F","p":-0.0068,"q":-0.0085},{"g":"F","p":-0.0066,"q":-0.0137},{"g":"F","p":-0.0062,"q":-0.006},{"g":"F","p":-0.006,"q":-0.004},{"g":"F","p":-0.0058,"q":-0.0078},{"g":"F","p":-0.0055,"q":-0.0202},{"g":"F","p":-0.0052,"q":-0.0065},{"g":"F","p":-0.005,"q":-0.0045},{"g":"F","p":-0.0048,"q":-0.0103},{"g":"F","p":-0.0045,"q":-0.002},{"g":"F","p":-0.0042,"q":-0.0068},{"g":"F","p":-0.004,"q":-0.008},{"g":"F","p":-0.0038,"q":-0.0055},{"g":"F","p":-0.0035,"q":-0.003},{"g":"F","p":-0.0032,"q":-0.0075},{"g":"F","p":-0.003,"q":-0.0098},{"g":"F","p":-0.0028,"q":-0.0133},{"g":"F","p":-0.0026,"q":-0.0153},{"g":"F","p":-0.0024,"q":-0.0072},{"g":"F","p":-0.0022,"q":-0.0085},{"g":"F","p":-0.002,"q":-0.0025},{"g":"F","p":-0.0018,"q":-0.009},{"g":"F","p":-0.0015,"q":-0.0065},{"g":"F","p":-0.0012,"q":-0.0118},{"g":"F","p":-0.001,"q":-0.0135},{"g":"F","p":-0.0008,"q":-0.0172},{"g":"F","p":-0.0006,"q":-0.006},{"g":"F","p":-0.0004,"q":-0.0108},{"g":"F","p":-0.0002,"q":-0.0085},{"g":"F","p":0,"q":-0.0145},{"g":"F","p":0.0002,"q":-0.0172},{"g":"F","p":0.0004,"q":-0.009},{"g":"F","p":0.0006,"q":-0.024},{"g":"F","p":0.0008,"q":-0.012},{"g":"F","p":0.001,"q":-0.0075},{"g":"F","p":0.0012,"q":-0.0058},{"g":"F","p":0.0014,"q":-0.011},{"g":"F","p":0.0016,"q":-0.0127},{"g":"F","p":0.0018,"q":-0.0065},{"g":"F","p":0.002,"q":-0.0138},{"g":"F","p":0.0022,"q":-0.005},{"g":"F","p":0.0026,"q":-0.009},{"g":"F","p":0.0032,"q":-0.0038},{"g":"F","p":0.004,"q":-0.0062},{"g":"F","p":0.0042,"q":-0.012},{"g":"F","p":0.0048,"q":-0.0048},{"g":"F","p":0.0054,"q":-0.018},{"g":"F","p":0.0062,"q":-0.0072},{"g":"F","p":0,"q":-0.0028},{"g":"F","p":-0.001,"q":-0.004},{"g":"F","p":0.001,"q":-0.0045},{"g":"F","p":0.0015,"q":-0.0015},{"g":"F","p":-0.0065,"q":0.0005},{"g":"F","p":-0.006,"q":0.0012},{"g":"F","p":-0.0058,"q":-0.0003},{"g":"F","p":-0.0055,"q":0.0008},{"g":"F","p":-0.0052,"q":-0.0002},{"g":"F","p":-0.005,"q":0.0015},{"g":"F","p":-0.0048,"q":-0.0008},{"g":"F","p":-0.0046,"q":0.0005},{"g":"F","p":-0.0044,"q":-0.0012},{"g":"F","p":-0.0042,"q":0.0003},{"g":"F","p":-0.004,"q":0.001},{"g":"F","p":-0.0038,"q":-0.0005},{"g":"F","p":-0.0036,"q":0.0002},{"g":"F","p":-0.0034,"q":-0.001},{"g":"F","p":-0.0032,"q":-0.0003},{"g":"F","p":-0.003,"q":0.0005},{"g":"F","p":-0.0028,"q":-0.0008},{"g":"F","p":-0.0026,"q":0},{"g":"F","p":-0.0024,"q":-0.0012},{"g":"F","p":-0.0022,"q":-0.0005},{"g":"F","p":-0.002,"q":-0.001},{"g":"F","p":-0.0062,"q":0.0025},{"g":"F","p":-0.0057,"q":0.0018},{"g":"F","p":-0.0067,"q":0.0008},{"g":"F","p":-0.007,"q":0.0015},{"g":"F","p":-0.008,"q":-0.0002},{"g":"F","p":-0.0085,"q":-0.0035},{"g":"F","p":-0.0065,"q":-0.0045},{"g":"F","p":-0.0045,"q":-0.005},
{"g":"M","p":-0.0243,"q":-0.0001},{"g":"M","p":-0.0083,"q":0.008},{"g":"M","p":-0.0063,"q":0.0033},{"g":"M","p":-0.0023,"q":0.0005},{"g":"M","p":-0.0045,"q":-0.0047},{"g":"M","p":0.0008,"q":0.005},{"g":"M","p":0.001,"q":0.0008},{"g":"M","p":0.0012,"q":-0.0012},{"g":"M","p":0.0015,"q":0.0015},{"g":"M","p":0.003,"q":-0.003},{"g":"M","p":0.0035,"q":0.0072},{"g":"M","p":0.0038,"q":0.0062},{"g":"M","p":0.004,"q":0.0052},{"g":"M","p":0.0042,"q":0.0043},{"g":"M","p":0.0045,"q":0.0092},{"g":"M","p":0.0048,"q":0.007},{"g":"M","p":0.0052,"q":-0.0005},{"g":"M","p":0.006,"q":0.008},{"g":"M","p":0.0062,"q":0.0052},{"g":"M","p":0.0068,"q":0.0073},{"g":"M","p":0.0075,"q":0.0068},{"g":"M","p":0.0078,"q":0.0055},{"g":"M","p":0.008,"q":0.008},{"g":"M","p":0.0082,"q":0.0048},{"g":"M","p":0.0085,"q":0.006},{"g":"M","p":0.0088,"q":0.0064},{"g":"M","p":0.009,"q":0.0058},{"g":"M","p":0.0092,"q":0.0048},{"g":"M","p":0.0095,"q":0.0061},{"g":"M","p":0.0098,"q":0.0075},{"g":"M","p":0.01,"q":0.0062},{"g":"M","p":0.0102,"q":0.0078},{"g":"M","p":0.0105,"q":0.0052},{"g":"M","p":0.0108,"q":0.0068},{"g":"M","p":0.0112,"q":0.0058},{"g":"M","p":0.0118,"q":0.0045},{"g":"M","p":0.0122,"q":0.006},{"g":"M","p":0.0125,"q":0.0082},{"g":"M","p":0.0128,"q":0.0085},{"g":"M","p":0.0132,"q":0.0068},{"g":"M","p":0.0136,"q":0.0055},{"g":"M","p":0.014,"q":0.007},{"g":"M","p":0.0145,"q":0.005},{"g":"M","p":0.0155,"q":0.005},{"g":"M","p":0.0165,"q":0.005},{"g":"M","p":0.0185,"q":0.0057},{"g":"M","p":0.008,"q":-0.006},{"g":"M","p":0.0098,"q":-0.0068},{"g":"M","p":0.0098,"q":-0.0078},{"g":"M","p":0.0075,"q":-0.0028},{"g":"M","p":0.006,"q":0.0008},{"g":"M","p":0.0072,"q":0.0012},{"g":"M","p":0.0092,"q":0.002},{"g":"M","p":0.0095,"q":0.0005},{"g":"M","p":0.01,"q":-0.0005},{"g":"M","p":0.0102,"q":0.0012},{"g":"M","p":0.0105,"q":0.0025},{"g":"M","p":0.0108,"q":-0.001},{"g":"M","p":0.011,"q":0.0005},{"g":"M","p":0.0112,"q":0.0018},{"g":"M","p":0.0114,"q":-0.002},{"g":"M","p":0.0116,"q":0.003},{"g":"M","p":0.0118,"q":0.0008},{"g":"M","p":0.012,"q":-0.0005},{"g":"M","p":0.0122,"q":0.0022},{"g":"M","p":0.0124,"q":0.0012},{"g":"M","p":0.0126,"q":-0.0015},{"g":"M","p":0.0128,"q":0.0002},{"g":"M","p":0.013,"q":0.0028},{"g":"M","p":0.0132,"q":0.001},{"g":"M","p":0.0134,"q":-0.0008},{"g":"M","p":0.0136,"q":0.0018},{"g":"M","p":0.0138,"q":0.0005},{"g":"M","p":0.014,"q":-0.0025},{"g":"M","p":0.0142,"q":0.0014},{"g":"M","p":0.0144,"q":0.003},{"g":"M","p":0.0146,"q":0.0002},{"g":"M","p":0.0148,"q":-0.0012},{"g":"M","p":0.015,"q":0.002},{"g":"M","p":0.0152,"q":0.0008},{"g":"M","p":0.0154,"q":-0.003},{"g":"M","p":0.0156,"q":0.0015},{"g":"M","p":0.0158,"q":-0.0005},{"g":"M","p":0.016,"q":0.0025},{"g":"M","p":0.0162,"q":0.001},{"g":"M","p":0.0164,"q":-0.0018},{"g":"M","p":0.0166,"q":0.0005},{"g":"M","p":0.0168,"q":0.002},{"g":"M","p":0.017,"q":-0.001},{"g":"M","p":0.0172,"q":0.0012},{"g":"M","p":0.0174,"q":-0.0025},{"g":"M","p":0.0176,"q":0.0003},{"g":"M","p":0.0178,"q":-0.0038},{"g":"M","p":0.018,"q":0.0008},{"g":"M","p":0.0182,"q":-0.0015},{"g":"M","p":0.0185,"q":-0.0005},{"g":"M","p":0.0188,"q":-0.002},{"g":"M","p":0.0192,"q":-0.0022},{"g":"M","p":0.0196,"q":-0.003},{"g":"M","p":0.0198,"q":-0.0012},{"g":"M","p":0.0138,"q":-0.0036},{"g":"M","p":0.0125,"q":-0.003},{"g":"M","p":0.0115,"q":-0.0028},{"g":"M","p":0.015,"q":-0.0035},{"g":"M","p":0.0165,"q":-0.003},{"g":"M","p":0.0175,"q":-0.0008},{"g":"M","p":0.0128,"q":0.004},{"g":"M","p":0.0148,"q":0.004},{"g":"M","p":0.012,"q":0.0035}
]
},
"columns":1,
"align":"none",
"spacing":0,
"resolve":{"scale":{"color":"independent","fill":"independent"},"legend":{"color":"independent","fill":"independent"}},
"concat":[
{
 "width":716,"height":276,
 "resolve":{"axis":{"x":"independent","y":"independent"}},
 "layer":[
  {"data":{"name":"bA"},"mark":{"type":"area","interpolate":"monotone","fillOpacity":0.3,"clip":true},
   "encoding":{
    "x":{"field":"x","type":"quantitative","scale":{"domain":[445,1590],"nice":false,"zero":false},"axis":{"values":[500,600,700,800,900,1000,1100,1200,1300,1400,1500],"format":"d","title":"Raman Shift (cm⁻¹)","titleFontSize":12.5,"titleY":31,"labelFontSize":10.5,"labelPadding":10,"tickCount":30,"minExtent":42,"maxExtent":42}},
    "y":{"field":"lo","type":"quantitative","scale":{"domain":[0,3.93],"nice":false,"zero":false},"axis":{"values":[0,0.5,1,1.5,2,2.5,3,3.5],"labelExpr":"toString(datum.value)","title":"Intensity","titleFontSize":12.5,"titleX":-29,"labelFontSize":10.5,"labelPadding":9,"tickCount":30,"minExtent":50,"maxExtent":50}},
    "y2":{"field":"hi"},
    "fill":{"field":"g","type":"nominal","scale":{"domain":["F","M","S"],"range":["#D95319","#EDB120","#0072BD"]},"legend":null},
    "detail":{"field":"seg","type":"nominal"}}},
  {"data":{"name":"sA"},"transform":[{"fold":["S","F","M"],"as":["g","v"]}],"mark":{"type":"line","interpolate":"monotone","strokeWidth":1.8,"clip":true},
   "encoding":{"x":{"field":"x","type":"quantitative","axis":null},"y":{"field":"v","type":"quantitative","axis":null},
    "color":{"field":"g","type":"nominal","scale":{"domain":["S","F","M"],"range":["#0072BD","#D95319","#EDB120"]},
     "legend":{"title":null,"orient":"none","legendX":464,"legendY":27,"symbolType":"stroke","symbolSize":256,"symbolStrokeWidth":1.6,"labelFontSize":10.5,"labelColor":"#111","labelExpr":"datum.label=='S'?'Saline':datum.label=='F'?'Formaldehyde':'Methanol'","strokeColor":"#8c8c8c","fillColor":"white","padding":2,"rowPadding":0,"labelOffset":2}}}},
  {"data":{"name":"boxA"},"mark":{"type":"rect","fill":"white","stroke":"black","strokeWidth":2},
   "encoding":{"x":{"field":"x1","type":"quantitative","axis":null},"x2":{"field":"x2"},"y":{"field":"y1","type":"quantitative","axis":null},"y2":{"field":"y2"}}},
  {"data":{"name":"iA"},"mark":{"type":"line","interpolate":"monotone","strokeWidth":3},
   "encoding":{"x":{"field":"x","type":"quantitative","axis":null},"y":{"field":"v","type":"quantitative","axis":null},"color":{"field":"g","type":"nominal"}}},
  {"data":{"name":"segA"},"transform":[{"filter":"datum.id[0]=='z'"}],"mark":{"type":"rule","color":"black","strokeWidth":1.2},
   "encoding":{"x":{"field":"x","type":"quantitative","axis":null},"y":{"field":"y","type":"quantitative","axis":null},"x2":{"field":"x2"},"y2":{"field":"y2"}}},
  {"data":{"name":"segA"},"transform":[{"filter":"datum.id=='a725'||datum.id=='a717'||datum.id=='a782'"}],"mark":{"type":"rule","color":"#4BACC6","strokeWidth":1.2},
   "encoding":{"x":{"field":"x","type":"quantitative","axis":null},"y":{"field":"y","type":"quantitative","axis":null},"x2":{"field":"x2"},"y2":{"field":"y2"}}},
  {"data":{"name":"segA"},"transform":[{"filter":"datum.id=='aF'"}],"mark":{"type":"rule","color":"#9a6a6a","strokeWidth":1.2},
   "encoding":{"x":{"field":"x","type":"quantitative","axis":null},"y":{"field":"y","type":"quantitative","axis":null},"x2":{"field":"x2"},"y2":{"field":"y2"}}},
  {"data":{"name":"segA"},"transform":[{"filter":"datum.id=='a725'"}],"mark":{"type":"point","shape":"triangle","angle":251.6,"size":45,"filled":true,"color":"#4BACC6","opacity":1},
   "encoding":{"x":{"field":"x2","type":"quantitative","axis":null},"y":{"field":"y2","type":"quantitative","axis":null}}},
  {"data":{"name":"segA"},"transform":[{"filter":"datum.id=='a717'"}],"mark":{"type":"point","shape":"triangle","angle":102.3,"size":45,"filled":true,"color":"#4BACC6","opacity":1},
   "encoding":{"x":{"field":"x2","type":"quantitative","axis":null},"y":{"field":"y2","type":"quantitative","axis":null}}},
  {"data":{"name":"segA"},"transform":[{"filter":"datum.id=='a782'"}],"mark":{"type":"point","shape":"triangle","angle":236.4,"size":45,"filled":true,"color":"#4BACC6","opacity":1},
   "encoding":{"x":{"field":"x2","type":"quantitative","axis":null},"y":{"field":"y2","type":"quantitative","axis":null}}},
  {"data":{"name":"segA"},"transform":[{"filter":"datum.id=='aF'"}],"mark":{"type":"point","shape":"triangle","angle":214.6,"size":45,"filled":true,"color":"#8B2A2A","opacity":1},
   "encoding":{"x":{"field":"x2","type":"quantitative","axis":null},"y":{"field":"y2","type":"quantitative","axis":null}}},
  {"data":{"name":"txtA"},"mark":{"type":"text","font":"Lato","fontSize":12.5,"color":"#1a1a1a","align":"center","baseline":"middle"},
   "encoding":{"x":{"field":"x","type":"quantitative","axis":null},"y":{"field":"y","type":"quantitative","axis":null},"text":{"field":"t"}}},
  {"data":{"values":[{"t":"A","x":476.5,"y":3.63}]},"mark":{"type":"text","fontSize":14,"fontWeight":"bold","color":"#111","align":"center","baseline":"middle"},
   "encoding":{"x":{"field":"x","type":"quantitative","axis":null},"y":{"field":"y","type":"quantitative","axis":null},"text":{"field":"t"}}},
  {"data":{"name":"boxA"},"mark":{"type":"point","opacity":0},
   "encoding":{"x":{"field":"x1","type":"quantitative","axis":{"orient":"top","values":[500,600,700,800,900,1000,1100,1200,1300,1400,1500],"labels":false,"title":null,"domain":false,"tickCount":30,"minExtent":0,"maxExtent":0}},
    "y":{"field":"y1","type":"quantitative","axis":{"orient":"right","values":[0,0.5,1,1.5,2,2.5,3,3.5],"labels":false,"title":null,"domain":false,"tickCount":30,"minExtent":0,"maxExtent":0}}}}
 ]},
{
 "width":722,"height":277,
 "resolve":{"axis":{"x":"independent","y":"independent"}},
 "layer":[
  {"data":{"name":"bB"},"mark":{"type":"area","interpolate":"monotone","fillOpacity":0.3,"clip":true},
   "encoding":{
    "x":{"field":"x","type":"quantitative","scale":{"domain":[445,1593],"nice":false,"zero":false},"axis":{"values":[500,600,700,800,900,1000,1100,1200,1300,1400,1500],"format":"d","title":"Raman Shift (cm⁻¹)","titleFontSize":12.5,"titleY":30,"labelFontSize":10.5,"labelPadding":10,"tickCount":30,"minExtent":42,"maxExtent":42}},
    "y":{"field":"lo","type":"quantitative","scale":{"domain":[0,4.9],"nice":false,"zero":false},"axis":{"values":[0,0.5,1,1.5,2,2.5,3,3.5,4,4.5],"labelExpr":"toString(datum.value)","title":"Intensity","titleFontSize":12.5,"titleX":-29,"labelFontSize":10.5,"labelPadding":7,"tickCount":30,"minExtent":46,"maxExtent":46}},
    "y2":{"field":"hi"},
    "fill":{"field":"g","type":"nominal","scale":{"domain":["F","M","S"],"range":["#D95319","#EDB120","#0072BD"]},"legend":null},
    "detail":{"field":"seg","type":"nominal"}}},
  {"data":{"name":"sB"},"transform":[{"fold":["S","F","M"],"as":["g","v"]}],"mark":{"type":"line","interpolate":"monotone","strokeWidth":1.8,"clip":true},
   "encoding":{"x":{"field":"x","type":"quantitative","axis":null},"y":{"field":"v","type":"quantitative","axis":null},
    "color":{"field":"g","type":"nominal","scale":{"domain":["S","F","M"],"range":["#0072BD","#D95319","#EDB120"]},
     "legend":{"title":null,"orient":"none","legendX":505,"legendY":25,"symbolType":"stroke","symbolSize":324,"symbolStrokeWidth":1.8,"labelFontSize":11,"labelColor":"#111","labelExpr":"datum.label=='S'?'Saline':datum.label=='F'?'Formaldehyde':'Methanol'","strokeColor":"#8c8c8c","fillColor":"white","padding":2,"rowPadding":0,"labelOffset":2}}}},
  {"data":{"name":"boxB"},"mark":{"type":"rect","fill":"white","stroke":"black","strokeWidth":2},
   "encoding":{"x":{"field":"x1","type":"quantitative","axis":null},"x2":{"field":"x2"},"y":{"field":"y1","type":"quantitative","axis":null},"y2":{"field":"y2"}}},
  {"data":{"name":"iB"},"mark":{"type":"line","interpolate":"monotone","strokeWidth":3},
   "encoding":{"x":{"field":"x","type":"quantitative","axis":null},"y":{"field":"v","type":"quantitative","axis":null},"color":{"field":"g","type":"nominal"}}},
  {"data":{"name":"segB"},"transform":[{"filter":"datum.id[0]=='z'"}],"mark":{"type":"rule","color":"black","strokeWidth":1.2},
   "encoding":{"x":{"field":"x","type":"quantitative","axis":null},"y":{"field":"y","type":"quantitative","axis":null},"x2":{"field":"x2"},"y2":{"field":"y2"}}},
  {"data":{"name":"segB"},"transform":[{"filter":"datum.id=='a725'||datum.id=='a717'||datum.id=='a782'"}],"mark":{"type":"rule","color":"#4BACC6","strokeWidth":1.2},
   "encoding":{"x":{"field":"x","type":"quantitative","axis":null},"y":{"field":"y","type":"quantitative","axis":null},"x2":{"field":"x2"},"y2":{"field":"y2"}}},
  {"data":{"name":"segB"},"transform":[{"filter":"datum.id=='aF'"}],"mark":{"type":"rule","color":"#9a6a6a","strokeWidth":1.2},
   "encoding":{"x":{"field":"x","type":"quantitative","axis":null},"y":{"field":"y","type":"quantitative","axis":null},"x2":{"field":"x2"},"y2":{"field":"y2"}}},
  {"data":{"name":"segB"},"transform":[{"filter":"datum.id=='a725'"}],"mark":{"type":"point","shape":"triangle","angle":252.1,"size":45,"filled":true,"color":"#4BACC6","opacity":1},
   "encoding":{"x":{"field":"x2","type":"quantitative","axis":null},"y":{"field":"y2","type":"quantitative","axis":null}}},
  {"data":{"name":"segB"},"transform":[{"filter":"datum.id=='a717'"}],"mark":{"type":"point","shape":"triangle","angle":104.5,"size":45,"filled":true,"color":"#4BACC6","opacity":1},
   "encoding":{"x":{"field":"x2","type":"quantitative","axis":null},"y":{"field":"y2","type":"quantitative","axis":null}}},
  {"data":{"name":"segB"},"transform":[{"filter":"datum.id=='a782'"}],"mark":{"type":"point","shape":"triangle","angle":236.3,"size":45,"filled":true,"color":"#4BACC6","opacity":1},
   "encoding":{"x":{"field":"x2","type":"quantitative","axis":null},"y":{"field":"y2","type":"quantitative","axis":null}}},
  {"data":{"name":"segB"},"transform":[{"filter":"datum.id=='aF'"}],"mark":{"type":"point","shape":"triangle","angle":215.2,"size":45,"filled":true,"color":"#8B2A2A","opacity":1},
   "encoding":{"x":{"field":"x2","type":"quantitative","axis":null},"y":{"field":"y2","type":"quantitative","axis":null}}},
  {"data":{"name":"txtB"},"mark":{"type":"text","font":"Lato","fontSize":12.5,"color":"#1a1a1a","align":"center","baseline":"middle"},
   "encoding":{"x":{"field":"x","type":"quantitative","axis":null},"y":{"field":"y","type":"quantitative","axis":null},"text":{"field":"t"}}},
  {"data":{"values":[{"t":"B","x":482.7,"y":4.5}]},"mark":{"type":"text","fontSize":14,"fontWeight":"bold","color":"#111","align":"center","baseline":"middle"},
   "encoding":{"x":{"field":"x","type":"quantitative","axis":null},"y":{"field":"y","type":"quantitative","axis":null},"text":{"field":"t"}}},
  {"data":{"name":"boxB"},"mark":{"type":"point","opacity":0},
   "encoding":{"x":{"field":"x1","type":"quantitative","axis":{"orient":"top","values":[500,600,700,800,900,1000,1100,1200,1300,1400,1500],"labels":false,"title":null,"domain":false,"tickCount":30,"minExtent":0,"maxExtent":0}},
    "y":{"field":"y1","type":"quantitative","axis":{"orient":"right","values":[0,0.5,1,1.5,2,2.5,3,3.5,4,4.5],"labels":false,"title":null,"domain":false,"tickCount":30,"minExtent":0,"maxExtent":0}}}}
 ]},
{"hconcat":[
 {"width":1,"height":1,"view":{"stroke":null},"data":{"values":[{"a":0}]},"mark":{"type":"point","opacity":0},"encoding":{}},
 {"hconcat":[
 {"width":296,"height":237,
  "resolve":{"axis":{"x":"independent","y":"independent"}},
  "layer":[
   {"data":{"name":"pC"},"mark":{"type":"point","filled":false,"size":30,"strokeWidth":1.5,"opacity":1},
    "encoding":{
     "x":{"field":"p","type":"quantitative","scale":{"domain":[-0.02,0.02],"nice":false,"zero":false},"axis":{"values":[-0.02,-0.01,0,0.01,0.02],"labelExpr":"toString(round(datum.value*1000)/1000)","title":"PC1","titleFontSize":16,"titleY":33.5,"labelFontSize":14,"labelPadding":13,"tickCount":30}},
     "y":{"field":"q","type":"quantitative","scale":{"domain":[-0.01,0.015],"nice":false,"zero":false},"axis":{"values":[-0.01,-0.005,0,0.005,0.01,0.015],"labelExpr":"toString(round(datum.value*1000)/1000)","title":"PC3","titleFontSize":16,"titleX":-58,"labelFontSize":14,"labelPadding":8,"tickCount":30,"minExtent":65,"maxExtent":65}},
     "color":{"field":"g","type":"nominal","scale":{"domain":["S","F","M"],"range":["#0072BD","#D95319","#EDB120"]},
      "legend":{"title":null,"orient":"none","legendX":177,"legendY":6,"symbolType":"circle","symbolSize":30,"symbolStrokeWidth":1.5,"labelFontSize":13,"labelColor":"#111","labelExpr":"datum.label=='S'?'Saline':datum.label=='F'?'Formaldehyde':'Methanol'","strokeColor":"#8c8c8c","fillColor":"white","padding":3,"rowPadding":1.5,"labelOffset":14,"symbolOffset":2}}}},
   {"data":{"name":"segC"},"mark":{"type":"rule","color":"#4BACC6","strokeWidth":1.2},
    "encoding":{"x":{"field":"x","type":"quantitative","axis":null},"y":{"field":"y","type":"quantitative","axis":null},"x2":{"field":"x2"},"y2":{"field":"y2"}}},
   {"data":{"name":"segC"},"transform":[{"filter":"datum.id=='d1'"}],"mark":{"type":"point","shape":"triangle","angle":342.5,"size":40,"filled":true,"color":"#4BACC6","opacity":1},
    "encoding":{"x":{"field":"x2","type":"quantitative","axis":null},"y":{"field":"y2","type":"quantitative","axis":null}}},
   {"data":{"name":"segC"},"transform":[{"filter":"datum.id=='d2'"}],"mark":{"type":"point","shape":"triangle","angle":292.7,"size":40,"filled":true,"color":"#4BACC6","opacity":1},
    "encoding":{"x":{"field":"x2","type":"quantitative","axis":null},"y":{"field":"y2","type":"quantitative","axis":null}}},
   {"data":{"name":"segC"},"transform":[{"filter":"datum.id=='d3'"}],"mark":{"type":"point","shape":"triangle","angle":268.2,"size":40,"filled":true,"color":"#4BACC6","opacity":1},
    "encoding":{"x":{"field":"x2","type":"quantitative","axis":null},"y":{"field":"y2","type":"quantitative","axis":null}}},
   {"data":{"name":"txtC"},"mark":{"type":"text","font":"Lato","fontSize":13,"color":"#1a1a1a","align":"left","baseline":"middle"},
    "encoding":{"x":{"field":"x","type":"quantitative","axis":null},"y":{"field":"y","type":"quantitative","axis":null},"text":{"field":"t"}}},
   {"data":{"values":[{"t":"C","x":-0.01716,"y":0.0124}]},"mark":{"type":"text","font":"Lato","fontSize":15,"fontWeight":"bold","color":"#111","align":"center","baseline":"middle"},
    "encoding":{"x":{"field":"x","type":"quantitative","axis":null},"y":{"field":"y","type":"quantitative","axis":null},"text":{"field":"t"}}},
   {"data":{"name":"segC"},"mark":{"type":"point","opacity":0},
    "encoding":{"x":{"field":"x","type":"quantitative","axis":{"orient":"top","values":[-0.02,-0.01,0,0.01,0.02],"labels":false,"title":null,"domain":false,"tickCount":30,"minExtent":0,"maxExtent":0}},
     "y":{"field":"y","type":"quantitative","axis":{"orient":"right","values":[-0.01,-0.005,0,0.005,0.01,0.015],"labels":false,"title":null,"domain":false,"tickCount":30,"minExtent":0,"maxExtent":0}}}}
  ]},
 {"width":284,"height":242,
  "resolve":{"axis":{"x":"independent","y":"independent"}},
  "layer":[
   {"data":{"name":"pD"},"mark":{"type":"point","filled":false,"size":30,"strokeWidth":1.5,"opacity":1},
    "encoding":{
     "x":{"field":"p","type":"quantitative","scale":{"domain":[-0.03,0.02],"nice":false,"zero":false},"axis":{"values":[-0.03,-0.02,-0.01,0,0.01,0.02],"labelExpr":"toString(round(datum.value*1000)/1000)","title":"PC1","titleFontSize":14.5,"titleY":29,"labelFontSize":13,"labelPadding":10,"tickCount":30}},
     "y":{"field":"q","type":"quantitative","scale":{"domain":[-0.025,0.01],"nice":false,"zero":false},"axis":{"values":[-0.025,-0.02,-0.015,-0.01,-0.005,0,0.005,0.01],"labelExpr":"toString(round(datum.value*1000)/1000)","title":"PC2","titleFontSize":14.5,"titleX":-50,"labelFontSize":13,"labelPadding":5,"tickCount":30,"minExtent":57,"maxExtent":57}},
     "color":{"field":"g","type":"nominal","scale":{"domain":["S","F","M"],"range":["#0072BD","#D95319","#EDB120"]},
      "legend":{"title":null,"orient":"none","legendX":7,"legendY":171,"symbolType":"circle","symbolSize":30,"symbolStrokeWidth":1.5,"labelFontSize":12.5,"labelColor":"#111","labelExpr":"datum.label=='S'?'Saline':datum.label=='F'?'Formaldehyde':'Methanol'","strokeColor":"#8c8c8c","fillColor":"white","padding":3,"rowPadding":2,"labelOffset":9,"symbolOffset":8}}}},
   {"data":{"name":"txtD"},"mark":{"type":"text","font":"Lato","fontSize":13.5,"color":"#1a1a1a","align":"left","baseline":"middle"},
    "encoding":{"x":{"field":"x","type":"quantitative","axis":null},"y":{"field":"y","type":"quantitative","axis":null},"text":{"field":"t"}}},
   {"data":{"values":[{"t":"D","x":-0.027,"y":0.00682}]},"mark":{"type":"text","fontSize":15,"fontWeight":"bold","color":"#111","align":"center","baseline":"middle"},
    "encoding":{"x":{"field":"x","type":"quantitative","axis":null},"y":{"field":"y","type":"quantitative","axis":null},"text":{"field":"t"}}},
   {"data":{"name":"txtD"},"mark":{"type":"point","opacity":0},
    "encoding":{"x":{"field":"x","type":"quantitative","axis":{"orient":"top","values":[-0.03,-0.02,-0.01,0,0.01,0.02],"labels":false,"title":null,"domain":false,"tickCount":30,"minExtent":0,"maxExtent":0}},
     "y":{"field":"y","type":"quantitative","axis":{"orient":"right","values":[-0.025,-0.02,-0.015,-0.01,-0.005,0,0.005,0.01],"labels":false,"title":null,"domain":false,"tickCount":30,"minExtent":0,"maxExtent":0}}}}
  ]}
 ],
 "spacing":19,
 "resolve":{"scale":{"color":"independent"},"legend":{"color":"independent"}}
 }
 ],
 "spacing":-55,
 "resolve":{"scale":{"color":"independent"},"legend":{"color":"independent"}}
}
]
}
